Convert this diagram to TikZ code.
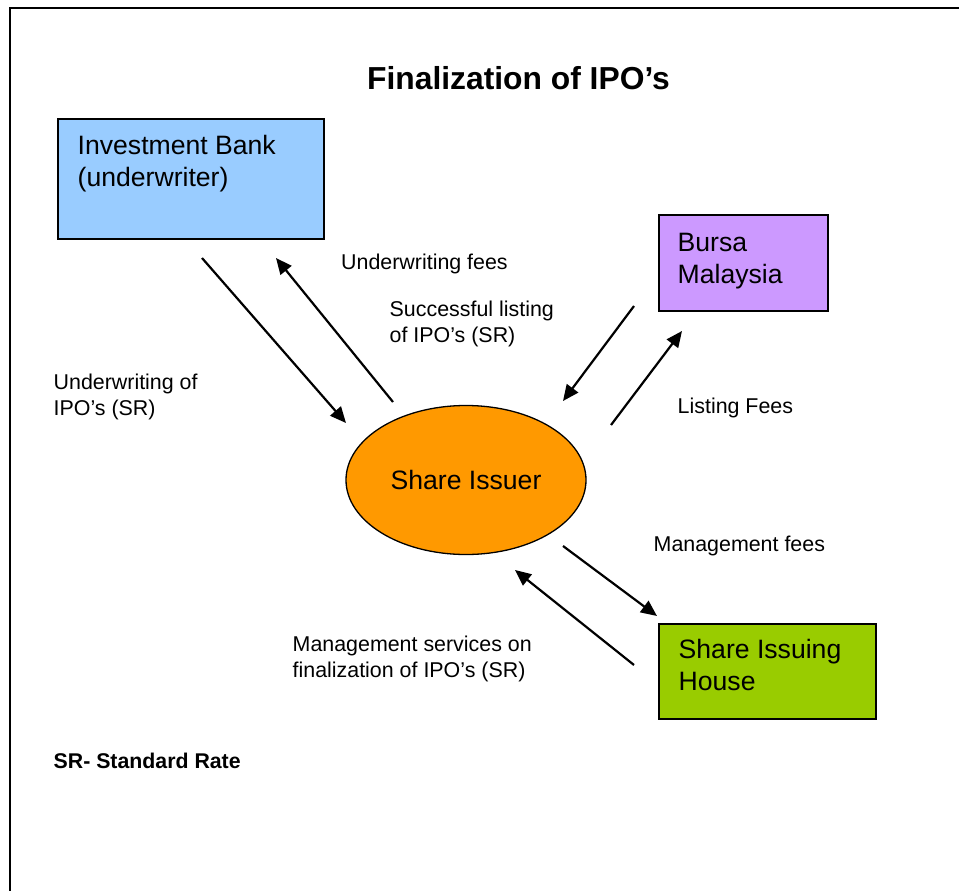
\documentclass[tikz,border=0pt]{standalone}
\usepackage{fontspec}
\setmainfont{Liberation Sans}
\usetikzlibrary{arrows.meta,shapes.geometric}
\definecolor{ibblue}{HTML}{99CCFF}
\definecolor{bursapurple}{HTML}{CC99FF}
\definecolor{housegreen}{HTML}{99CC00}
\definecolor{issorange}{HTML}{FF9900}
\begin{document}
\begin{tikzpicture}[x=1pt,y=-1pt,
  box/.style={draw=black, line width=1.6pt, anchor=north west, inner sep=0pt},
  boxlab/.style={anchor=north west, inner sep=0pt, align=left, font=\fontsize{26.6}{31.5}\selectfont},
  lab/.style={anchor=north west, inner sep=0pt, align=left, font=\fontsize{21.4}{26}\selectfont},
  flow/.style={line width=2.2pt, -{Triangle[length=16pt,width=14pt]}},
  label distance=0pt
]
\useasboundingbox (0,0) rectangle (959,891);
\clip (0,0) rectangle (959,891);
% outer frame (continues beyond the page edge)
\draw[line width=2.4pt] (9.8,1000) -- (9.8,7.8) -- (1000,7.8);

\node[font=\bfseries\fontsize{31.8}{38}\selectfont, inner sep=0pt] (title) at (518.5,78) {Finalization of IPO’s};

\node[box, fill=ibblue, minimum width=266pt, minimum height=120pt,
  label={[boxlab, xshift=20.5pt, yshift=-17.2pt]north west:{Investment Bank\\(underwriter)}}] (ib) at (57,118) {};
\node[box, fill=bursapurple, minimum width=169pt, minimum height=96pt,
  label={[boxlab, xshift=19.5pt, yshift=-19.2pt]north west:{Bursa\\Malaysia}}] (bursa) at (658,214) {};
\node[box, fill=housegreen, minimum width=217pt, minimum height=95pt,
  label={[boxlab, xshift=20.5pt, yshift=-16.2pt]north west:{Share Issuing\\House}}] (house) at (658,623) {};
\node[ellipse, draw=black, line width=1.3pt, fill=issorange, minimum width=240pt, minimum height=149pt,
  inner sep=0pt, font=\fontsize{26.6}{31.5}\selectfont] (si) at (466,480) {Share Issuer};

\coordinate (a1s) at (202,258); \coordinate (a1e) at (346,423);
\coordinate (a2s) at (393,402); \coordinate (a2e) at (276,258);
\coordinate (a3s) at (634,306); \coordinate (a3e) at (563,401);
\coordinate (a4s) at (611,425); \coordinate (a4e) at (682,331);
\coordinate (a5s) at (563,546); \coordinate (a5e) at (657,616);
\coordinate (a6s) at (634,665); \coordinate (a6e) at (515,570);
\draw[flow] (a1s) -- (a1e);
\draw[flow] (a2s) -- (a2e);
\draw[flow] (a3s) -- (a3e);
\draw[flow] (a4s) -- (a4e);
\draw[flow] (a5s) -- (a5e);
\draw[flow] (a6s) -- (a6e);

\node[lab] (uwfees) at (341,253.3) {Underwriting fees};
\node[lab] (succ) at (389.5,300.3) {Successful listing\\of IPO’s (SR)};
\node[lab] (uwipo) at (53.5,373.3) {Underwriting of\\IPO’s (SR)};
\node[lab] (lfees) at (677.5,397.3) {Listing Fees};
\node[lab] (mfees) at (653.5,536.3) {Management fees};
\node[lab] (mserv) at (292.5,635.3) {Management services on\\finalization of IPO’s (SR)};
\node[lab, font=\bfseries\fontsize{21.3}{25}\selectfont] (sr) at (53.5,752.5) {SR- Standard Rate};
\end{tikzpicture}
\end{document}
